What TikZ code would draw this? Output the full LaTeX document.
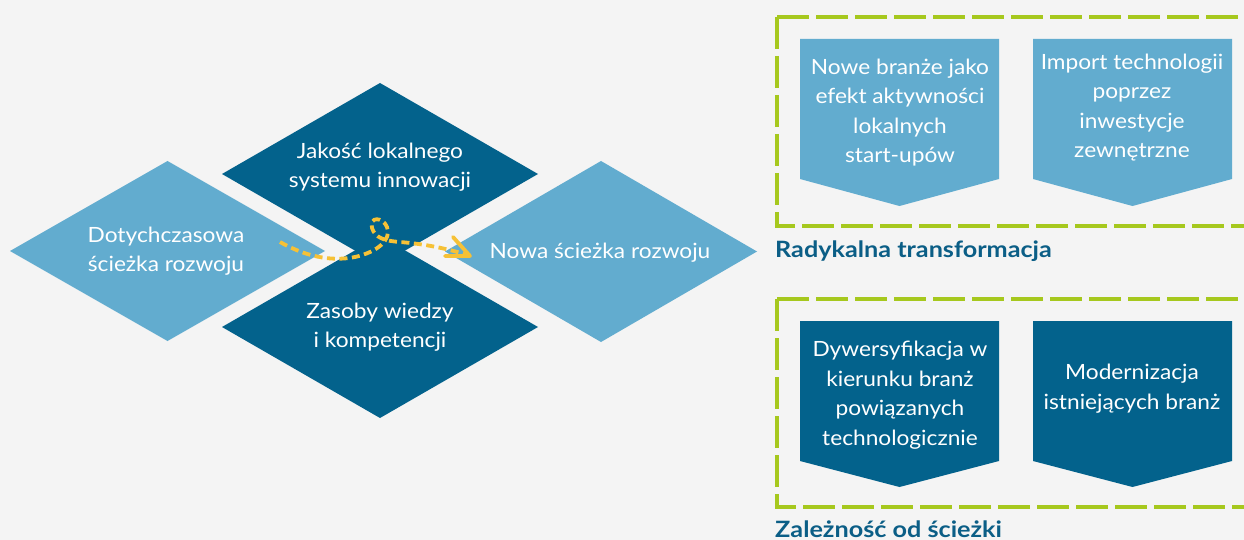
\documentclass[tikz,border=0pt]{standalone}
\usepackage{fontspec}
\setmainfont{Lato}[FakeStretch=1.08]
\newfontfamily\headfont{Lato}[FakeStretch=1.12]
\usetikzlibrary{shapes.geometric}
\definecolor{bgc}{HTML}{F4F4F4}
\definecolor{lightb}{HTML}{62ACCF}
\definecolor{darkb}{HTML}{03628C}
\definecolor{grn}{HTML}{A6C81E}
\definecolor{yel}{HTML}{F6C136}
\definecolor{headc}{HTML}{0B5E86}
\tikzset{
  diam/.style={diamond, draw=none, inner sep=0pt, outer sep=0pt, aspect=1.75},
  txt/.style={text=white, align=center, inner sep=0pt, font=\fontsize{21}{29.5}\selectfont},
  headtxt/.style={text=headc, anchor=west, inner sep=0pt, font=\headfont\fontsize{22.5}{26}\selectfont\bfseries},
  greenbox/.style={draw=grn, line width=4.5pt, dash pattern=on 32pt off 7pt, line cap=butt},
  yarrow/.style={draw=yel, line width=3.8pt, dash pattern=on 8pt off 4.5pt},
  yhead/.style={draw=yel, line width=3.8pt, line cap=round, line join=round}
}
\begin{document}
\begin{tikzpicture}[x=1pt,y=-1pt]
\fill[bgc] (0,0) rectangle (1244,540);
\useasboundingbox (0,0) rectangle (1244,540);

% diamonds
\node[diam, fill=darkb, minimum width=316pt, minimum height=182pt] (dtop) at (380,174) {};
\node[diam, fill=darkb, minimum width=316pt, minimum height=182pt] (dbot) at (380,327) {};
\node[diam, fill=lightb, minimum width=315pt, minimum height=180pt] (dleft) at (167.5,251) {};
\node[diam, fill=lightb, minimum width=312pt, minimum height=181pt] (dright) at (601,251.5) {};

\node[txt] (tleft) at (166,251) {Dotychczasowa\\ścieżka rozwoju};
\node[txt] (ttop) at (380,167) {Jakość lokalnego\\systemu innowacji};
\node[txt] (tbot) at (380,327) {Zasoby wiedzy\\i kompetencji};
\node[txt] (tright) at (600,253) {Nowa ścieżka rozwoju};

% yellow arrow
\coordinate (a0) at (280,242);
\coordinate (a1) at (470,256);
\draw[yarrow] (a0) .. controls (305,256) and (330,262) .. (355,257)
  .. controls (377,252) and (392,240) .. (387,227)
  .. controls (383,217) and (369,216) .. (372,228)
  .. controls (375,238) and (385,241) .. (400,242)
  .. controls (425,244) and (450,249) .. (a1);
\draw[yhead] (453,237) -- (a1) -- (445,256);

% green boxes
\draw[greenbox] (777,17) -- (1260,17);
\draw[greenbox] (777,17) -- (777,226) -- (1260,226);
\draw[greenbox] (777,299) -- (1260,299);
\draw[greenbox] (777,299) -- (777,507) -- (1260,507);

% pentagons
\fill[lightb] (800,39) -- (999,39) -- (999,179) -- (899.5,206) -- (800,179) -- cycle;
\fill[lightb] (1033,39) -- (1232,39) -- (1232,179) -- (1132.5,206) -- (1033,179) -- cycle;
\fill[darkb] (800,321) -- (999,321) -- (999,461) -- (899.5,487) -- (800,461) -- cycle;
\fill[darkb] (1033,321) -- (1232,321) -- (1232,461) -- (1132.5,487) -- (1033,461) -- cycle;

\node[txt] (p1) at (900,112.5) {Nowe branże jako\\efekt aktywności\\lokalnych\\start-upów};
\node[txt] (p2) at (1132,107.5) {Import technologii\\poprzez\\inwestycje\\zewnętrzne};
\node[txt] (p3) at (900,395) {Dywersyfikacja w\\kierunku branż\\powiązanych\\technologicznie};
\node[txt] (p4) at (1132,388.5) {Modernizacja\\istniejących branż};

\node[headtxt] (h1) at (775,251) {Radykalna transformacja};
\node[headtxt, anchor=base west] (h2) at (775,537) {Zależność od ścieżki};
\end{tikzpicture}
\end{document}
